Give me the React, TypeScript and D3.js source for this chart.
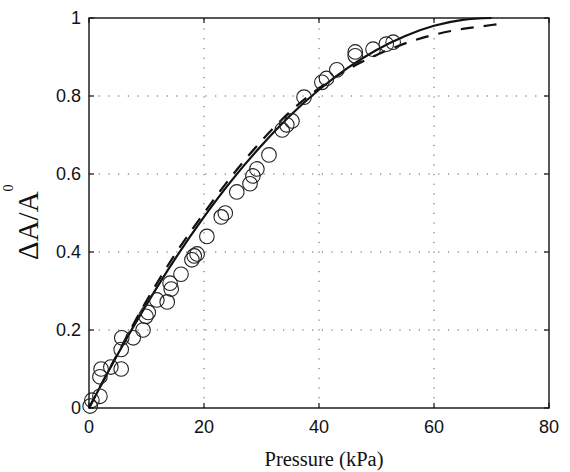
import * as d3 from "d3";

// measured points (kPa, dA/A0)
const pressure = [0.2, 0.5, 1.9, 1.9, 2.1, 3.8, 5.6, 5.6, 5.7, 7.7, 9.4, 9.9, 10.3, 11.8, 13.6, 14.1, 14.3, 16.0, 17.9, 18.3, 18.8, 20.5, 23.0, 23.7, 25.7, 28.0, 28.5, 29.2, 31.3, 33.6, 34.4, 35.3, 37.4, 40.5, 41.3, 43.1, 46.3, 46.3, 49.4, 51.7, 52.9];
const areaChange = [0.005, 0.02, 0.03, 0.08, 0.1, 0.105, 0.1, 0.15, 0.18, 0.18, 0.2, 0.235, 0.245, 0.277, 0.272, 0.32, 0.305, 0.343, 0.38, 0.39, 0.395, 0.44, 0.49, 0.5, 0.554, 0.575, 0.595, 0.613, 0.649, 0.713, 0.726, 0.736, 0.797, 0.835, 0.845, 0.867, 0.903, 0.913, 0.92, 0.933, 0.938];

// model curves
const solidX = [0, 5, 10, 15, 20, 25, 30, 35, 40, 45, 50, 55, 60, 65, 70];
const solidY = [0, 0.138, 0.265, 0.383, 0.49, 0.587, 0.673, 0.75, 0.816, 0.872, 0.918, 0.954, 0.98, 0.995, 1.0];
const dashedX = [0, 5, 10, 15, 20, 25, 30, 35, 40, 45, 50, 55, 60, 65, 70, 71.5];
const dashedY = [0, 0.14, 0.275, 0.395, 0.5, 0.598, 0.685, 0.76, 0.82, 0.868, 0.905, 0.935, 0.957, 0.972, 0.982, 0.985];

const xTicks = [0, 20, 40, 60, 80];
const yTicks = [0, 0.2, 0.4, 0.6, 0.8, 1];

const W = 570;
const H = 472;
const left = 89, right = 549, top = 18, bottom = 408;

export default function App() {
  const x = d3.scaleLinear().domain([0, 80]).range([left, right]);
  const y = d3.scaleLinear().domain([0, 1]).range([bottom, top]);
  const line = d3
    .line<[number, number]>()
    .x((d) => x(d[0]))
    .y((d) => y(d[1]))
    .curve(d3.curveMonotoneX);

  const solid = solidX.map((v, i) => [v, solidY[i]] as [number, number]);
  const dashed = dashedX.map((v, i) => [v, dashedY[i]] as [number, number]);
  const sans = "'Liberation Sans', Arial, sans-serif";
  const serif = "'Liberation Serif', 'Times New Roman', serif";

  return (
    <svg width={W} height={H} style={{ position: "absolute", left: 0, top: 0, background: "#fff" }}>
      <rect x={0} y={0} width={W} height={H} fill="#fff" />
      {/* grid */}
      {xTicks.slice(1, -1).map((t) => (
        <line key={"gx" + t} x1={x(t)} x2={x(t)} y1={bottom} y2={top} stroke="#555" strokeWidth={1} strokeDasharray="1.2,8.5" />
      ))}
      {yTicks.slice(1, -1).map((t) => (
        <line key={"gy" + t} x1={left} x2={right} y1={y(t)} y2={y(t)} stroke="#555" strokeWidth={1} strokeDasharray="1.2,8.5" />
      ))}
      {/* curves */}
      <path d={line(dashed) ?? ""} fill="none" stroke="#111" strokeWidth={2.2} strokeDasharray="13,10" />
      <path d={line(solid) ?? ""} fill="none" stroke="#111" strokeWidth={2.2} />
      {/* data */}
      {pressure.map((p, i) => (
        <circle key={i} cx={x(p)} cy={y(areaChange[i])} r={7.3} fill="none" stroke="#222" strokeWidth={1.1} />
      ))}
      {/* axes box and ticks */}
      <rect x={left} y={top} width={right - left} height={bottom - top} fill="none" stroke="#111" strokeWidth={1.4} />
      {xTicks.map((t) => (
        <g key={"tx" + t}>
          <line x1={x(t)} x2={x(t)} y1={bottom} y2={bottom - 5} stroke="#111" strokeWidth={1.2} />
          <line x1={x(t)} x2={x(t)} y1={top} y2={top + 5} stroke="#111" strokeWidth={1.2} />
          <text x={x(t)} y={433} textAnchor="middle" fontFamily={sans} fontSize={18} fill="#111">
            {t}
          </text>
        </g>
      ))}
      {yTicks.map((t) => (
        <g key={"ty" + t}>
          <line x1={left} x2={left + 5} y1={y(t)} y2={y(t)} stroke="#111" strokeWidth={1.2} />
          <line x1={right} x2={right - 5} y1={y(t)} y2={y(t)} stroke="#111" strokeWidth={1.2} />
          <text x={81} y={y(t)} dy="0.36em" textAnchor="end" fontFamily={sans} fontSize={18} fill="#111">
            {t}
          </text>
        </g>
      ))}
      <text x={324} y={466} textAnchor="middle" fontFamily={serif} fontSize={20.5} fill="#111">
        Pressure (kPa)
      </text>
      <text transform="translate(38,260) rotate(-90)" fontFamily={serif} fontSize={29} fill="#111">
        ΔA/A
        <tspan fontSize={14} dy={-25}>0</tspan>
      </text>
    </svg>
  );
}
